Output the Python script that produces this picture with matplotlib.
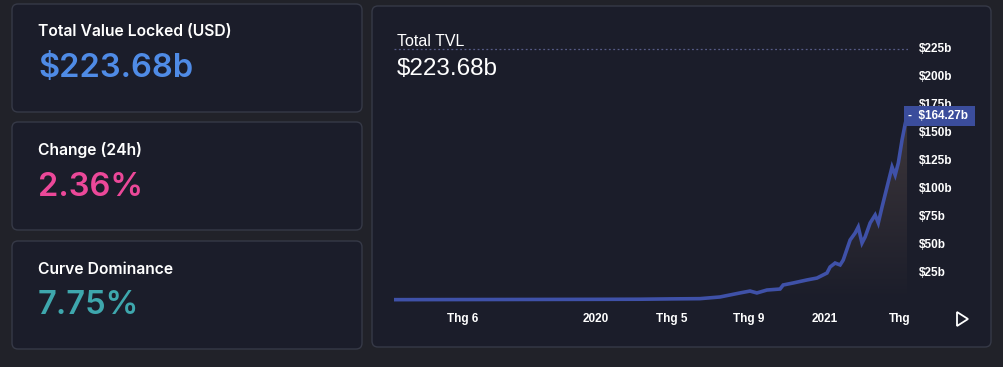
import numpy as np
import pandas as pd
import matplotlib
matplotlib.use('Agg')
import matplotlib.pyplot as plt
import matplotlib.dates as mdates
import matplotlib.transforms as mtransforms
from matplotlib.patches import FancyBboxPatch, Polygon
from matplotlib.colors import LinearSegmentedColormap

# ---- data ----
dates = ['2019-02-12', '2019-06-01', '2019-09-23', '2020-01-01', '2020-03-12',
         '2020-05-01', '2020-06-15', '2020-07-17', '2020-08-18', '2020-09-03',
         '2020-09-14', '2020-09-30', '2020-10-21', '2020-10-26', '2020-11-11',
         '2020-12-03', '2020-12-19', '2021-01-04', '2021-01-09', '2021-01-17',
         '2021-01-25', '2021-01-30', '2021-02-10', '2021-02-18', '2021-02-23',
         '2021-03-01', '2021-03-06', '2021-03-14', '2021-03-22', '2021-03-27',
         '2021-04-02', '2021-04-10', '2021-04-18', '2021-04-23', '2021-04-28',
         '2021-05-04', '2021-05-09', '2021-05-12']
tvl = [0.3, 0.4, 0.5, 0.6, 0.7,
       1.0, 1.2, 2.7, 6.3, 8.0,
       6.3, 8.9, 9.8, 13.4, 15.2,
       17.9, 19.6, 24.1, 29.5, 33.0,
       31.3, 35.7, 53.6, 59.8, 65.2,
       50.9, 56.3, 68.8, 75.9, 68.8,
       83.0, 100.9, 118.8, 111.6, 122.3,
       142.9, 157.2, 164.27]

y_ticks = [25, 50, 75, 100, 125, 150, 175, 200, 225]
x_tick_dates = ['2019-06-01', '2020-01-01', '2020-05-01', '2020-09-01', '2021-01-01', '2021-05-01']
x_tick_labels = ['Thg 6', '2020', 'Thg 5', 'Thg 9', '2021', 'Thg']

total_tvl = 223.68
cards = [('Total Value Locked (USD)', '$223.68b', '#4f8be6'),
         ('Change (24h)', '2.36%', '#ec4899'),
         ('Curve Dominance', '7.75%', '#3ea7ad')]

W, H = 1004, 367
outer_bg = '#212229'
panel_bg = '#1b1d2a'
border = '#363947'
line_col = '#3f51a8'

fig = plt.figure(figsize=(W / 100, H / 100), dpi=100)
fig.patch.set_facecolor(outer_bg)

# overlay axes in pixel coordinates for panels and labels
bg = fig.add_axes([0, 0, 1, 1])
bg.set_xlim(0, W)
bg.set_ylim(H, 0)
bg.axis('off')

def panel(x0, y0, x1, y1):
    p = FancyBboxPatch((x0, y0), x1 - x0, y1 - y0,
                       boxstyle='round,pad=0,rounding_size=6',
                       fc=panel_bg, ec=border, lw=1)
    bg.add_patch(p)

card_tops = [4, 122, 241]
for (title, val, col), top in zip(cards, card_tops):
    panel(12, top, 362, top + 108)
    bg.text(38, top + 28, title, color='white', fontsize=11.3, fontweight='semibold',
            family=['Inter', 'DejaVu Sans'], va='center', ha='left')
    bg.text(38, top + 65, val, color=col, fontsize=23.5, fontweight='semibold',
            family=['Inter', 'DejaVu Sans'], va='center', ha='left')

panel(372, 6, 991, 347)
bg.text(397, 41, 'Total TVL', color='white', fontsize=11.5,
        family=['Liberation Sans', 'DejaVu Sans'], va='center', ha='left')
bg.text(397, 69, '$%.2fb' % total_tvl, color='white', fontsize=17.5,
        family=['Liberation Sans', 'DejaVu Sans'], va='center', ha='left')

# play icon
bg.add_patch(Polygon([[957, 312], [957, 326], [968, 319]], closed=True,
                     fill=False, ec='white', lw=1.3))

# ---- chart ----
d = pd.to_datetime(dates)
x = mdates.date2num(d)
y = np.array(tvl)

y_top_px, y_bot_px = 40, 305
ax = fig.add_axes([394 / W, 1 - y_bot_px / H, (908 - 394) / W, (y_bot_px - y_top_px) / H])
ax.set_facecolor('none')
k = 25 / 28.0
ax.set_ylim((300 - y_bot_px) * k, (300 - y_top_px) * k)
ax.set_xlim(x[0], x[-1] + 1.5)

# gradient fill under the curve
cmap = LinearSegmentedColormap.from_list('f', [panel_bg, '#3e373b'])
grad = np.linspace(0, 1, 256).reshape(-1, 1)
im = ax.imshow(grad, cmap=cmap, aspect='auto', origin='lower',
               extent=[x[0], x[-1], 0, y.max()], zorder=1)
poly = Polygon(np.column_stack([np.r_[x, x[-1], x[0]], np.r_[y, 0, 0]]),
               closed=True, transform=ax.transData, fc='none', ec='none')
ax.add_patch(poly)
im.set_clip_path(poly)

ax.plot(x, y, color=line_col, lw=2.6, zorder=3, solid_joinstyle='miter')
ax.axhline(total_tvl, color='#565b86', lw=0.9, ls=(0, (1.5, 2)), zorder=2)

for s in ax.spines.values():
    s.set_visible(False)
ax.yaxis.tick_right()
ax.set_yticks(y_ticks)
ax.set_yticklabels(['$%db' % v for v in y_ticks])
ax.set_xticks(mdates.date2num(pd.to_datetime(x_tick_dates)))
ax.set_xticklabels(x_tick_labels)
ax.tick_params(length=0, colors='white', labelsize=8.5)
ax.tick_params(axis='y', pad=8)
ax.tick_params(axis='x', pad=6)
for lab in ax.get_xticklabels() + ax.get_yticklabels():
    lab.set_family(['Liberation Sans Narrow', 'Liberation Sans', 'DejaVu Sans'])
    lab.set_fontweight('bold')

# last value marker
trans = mtransforms.blended_transform_factory(ax.transAxes, ax.transData)
ax.text(1.0, tvl[-1], '-  $%.2fb ' % tvl[-1], transform=trans, color='white',
        fontsize=8.5, fontweight='bold', va='center', ha='left',
        family=['Liberation Sans Narrow', 'Liberation Sans', 'DejaVu Sans'],
        bbox=dict(boxstyle='square,pad=0.3', fc='#3b4d9c', ec='none'), zorder=5)

fig.savefig('out.png', dpi=100, facecolor=fig.get_facecolor())
